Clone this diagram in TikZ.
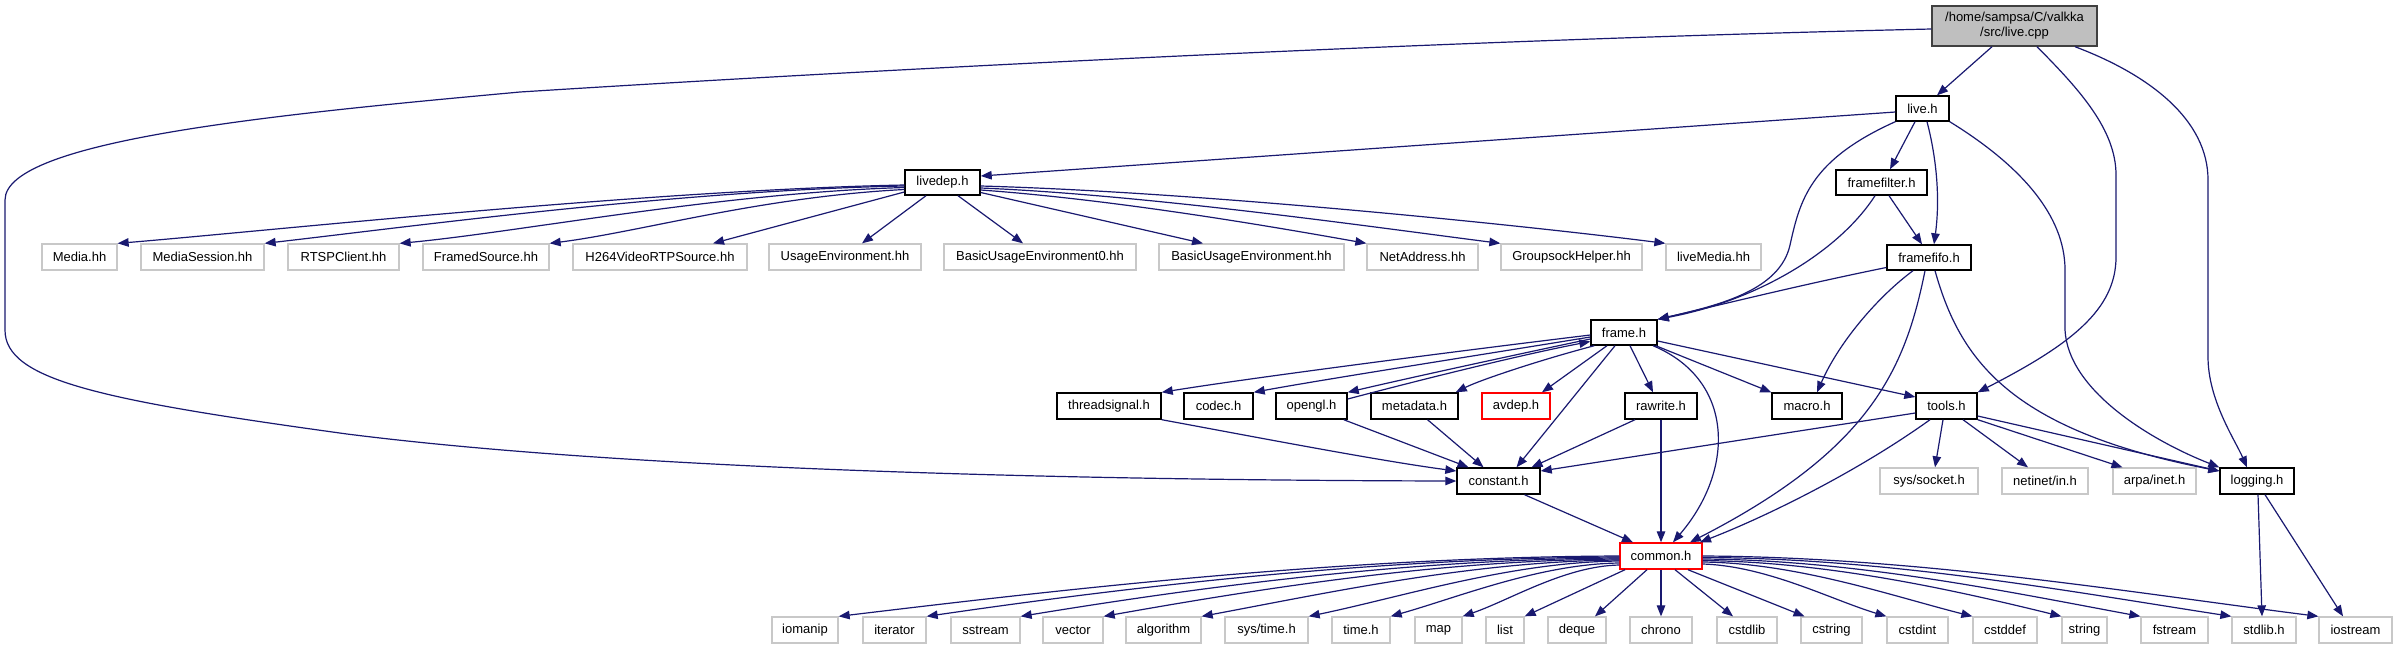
\documentclass[tikz,border=0pt]{standalone}
\usepackage{fontspec}
\setmainfont{Liberation Sans}
\usetikzlibrary{arrows.meta}
\definecolor{edgeblue}{HTML}{191970}
\definecolor{extgray}{HTML}{C8C8C8}
\definecolor{rootfill}{HTML}{BFBFBF}
\definecolor{rootline}{HTML}{404040}
\tikzset{
  base/.style={rectangle, inner sep=0pt, minimum height=26pt, fill=white, text=black, font=\fontsize{13}{15}\selectfont},
  doc/.style={base, draw=black, line width=1.4pt},
  ext/.style={base, draw=extgray, line width=1.3pt},
  trunc/.style={base, draw=red, line width=1.4pt},
  rootbox/.style={base, fill=rootfill, draw=rootline, line width=1.4pt, align=center},
  edge/.style={draw=edgeblue, line width=1.2pt, -{Triangle[length=11pt,width=8.5pt]}}
}
\begin{document}
\begin{tikzpicture}[x=1pt,y=-1pt]
\fill[white] (0,0) rectangle (2397,649);
\useasboundingbox (0,0) rectangle (2397,649);
% top
\node[rootbox, minimum width=165pt, minimum height=40pt] (livecpp) at (2014.5,26) {/home/sampsa/C/valkka\\/src/live.cpp};
\node[doc, minimum width=53pt, minimum height=25pt] (liveh) at (1922.5,108.5) {live.h};
\node[doc, minimum width=75pt, minimum height=25pt] (livedep) at (942.5,182.5) {livedep.h};
\node[doc, minimum width=91pt, minimum height=25pt] (framefilter) at (1881.5,182.5) {framefilter.h};
\node[doc, minimum width=84pt, minimum height=25pt] (framefifo) at (1929,257.5) {framefifo.h};
% live555 row
\node[ext, minimum width=75pt] (media) at (79.5,257) {Media.hh};
\node[ext, minimum width=123pt] (mediasession) at (202.5,257) {MediaSession.hh};
\node[ext, minimum width=111pt] (rtsp) at (343.5,257) {RTSPClient.hh};
\node[ext, minimum width=126pt] (framed) at (486,257) {FramedSource.hh};
\node[ext, minimum width=174pt] (h264) at (660,257) {H264VideoRTPSource.hh};
\node[ext, minimum width=152pt] (usage) at (845,257) {UsageEnvironment.hh};
\node[ext, minimum width=192pt] (basic0) at (1040,257) {BasicUsageEnvironment0.hh};
\node[ext, minimum width=185pt] (basic) at (1251.5,257) {BasicUsageEnvironment.hh};
\node[ext, minimum width=111pt] (netaddr) at (1422.5,257) {NetAddress.hh};
\node[ext, minimum width=141pt] (groupsock) at (1571.5,257) {GroupsockHelper.hh};
\node[ext, minimum width=95pt] (livemedia) at (1713.5,257) {liveMedia.hh};
% frame
\node[doc, minimum width=66pt, minimum height=25pt] (frame) at (1624,332.5) {frame.h};
\node[doc, minimum width=104pt] (threadsignal) at (1109,406) {threadsignal.h};
\node[doc, minimum width=69pt] (codec) at (1218.5,406) {codec.h};
\node[doc, minimum width=71pt] (opengl) at (1311.5,406) {opengl.h};
\node[doc, minimum width=87pt] (metadata) at (1414.5,406) {metadata.h};
\node[trunc, minimum width=68pt] (avdep) at (1516,406) {avdep.h};
\node[doc, minimum width=72pt] (rawrite) at (1661,406) {rawrite.h};
\node[doc, minimum width=70pt] (macro) at (1807,406) {macro.h};
\node[doc, minimum width=61pt] (tools) at (1946.5,406) {tools.h};
% constant row
\node[doc, minimum width=83pt] (constant) at (1498.5,481) {constant.h};
\node[ext, minimum width=98pt] (socket) at (1929,481) {sys/socket.h};
\node[ext, minimum width=86pt] (netinet) at (2045,481) {netinet/in.h};
\node[ext, minimum width=83pt] (arpa) at (2154.5,481) {arpa/inet.h};
\node[doc, minimum width=74pt] (logging) at (2257,481) {logging.h};
\node[trunc, minimum width=82pt] (common) at (1661,556) {common.h};
% bottom row
\node[ext, minimum width=66pt] (iomanip) at (805,630) {iomanip};
\node[ext, minimum width=63pt] (iterator) at (894.5,630) {iterator};
\node[ext, minimum width=69pt] (sstream) at (985.5,630) {sstream};
\node[ext, minimum width=60pt] (vector) at (1073,630) {vector};
\node[ext, minimum width=75pt] (algorithm) at (1163.5,630) {algorithm};
\node[ext, minimum width=83pt] (systime) at (1266.5,630) {sys/time.h};
\node[ext, minimum width=58pt] (timeh) at (1361,630) {time.h};
\node[ext, minimum width=47pt] (map) at (1438.5,630) {map};
\node[ext, minimum width=38pt] (list) at (1505,630) {list};
\node[ext, minimum width=58pt] (deque) at (1577,630) {deque};
\node[ext, minimum width=62pt] (chrono) at (1661,630) {chrono};
\node[ext, minimum width=60pt] (cstdlib) at (1747,630) {cstdlib};
\node[ext, minimum width=61pt] (cstring) at (1831.5,630) {cstring};
\node[ext, minimum width=61pt] (cstdint) at (1917.5,630) {cstdint};
\node[ext, minimum width=64pt] (cstddef) at (2005,630) {cstddef};
\node[ext, minimum width=45pt] (string) at (2084.5,630) {string};
\node[ext, minimum width=67pt] (fstream) at (2174.5,630) {fstream};
\node[ext, minimum width=64pt] (stdlibh) at (2264,630) {stdlib.h};
\node[ext, minimum width=73pt] (iostream) at (2355.5,630) {iostream};
% live.cpp edges
\draw[edge] ([xshift=-22.5pt]livecpp.south) -- ([xshift=14.5pt]liveh.north);
\draw[edge] ([yshift=-3pt]livecpp.west) .. controls (1450,40) and (900,68) .. (520,92) .. controls (280,114) and (5,140) .. (5,200) -- (5,330) .. controls (5,380) and (100,400) .. (347,434) .. controls (600,466) and (1000,480) .. (constant.west);
\draw[edge] ([xshift=22.5pt]livecpp.south) .. controls (2080,90) and (2116,130) .. (2116,175) -- (2116,257) .. controls (2116,310) and (2070,345) .. (tools.north east);
\draw[edge] ([xshift=60.5pt]livecpp.south) .. controls (2150,75) and (2208,120) .. (2208,180) -- (2208,357) .. controls (2208,400) and (2235,440) .. ([xshift=-10pt]logging.north);
% live.h edges
\draw[edge] ([yshift=-3.5pt]liveh.west) -- ([yshift=6.5pt]livedep.east);
\draw[edge] (liveh.south west) .. controls (1810,160) and (1800,200) .. (1790,245) .. controls (1780,290) and (1720,305) .. (frame.north east);
\draw[edge] ([xshift=-7.5pt]liveh.south) -- ([xshift=8.5pt]framefilter.north);
\draw[edge] ([xshift=4.5pt]liveh.south) .. controls (1937,160) and (1940,200) .. ([xshift=5pt]framefifo.north);
\draw[edge] (liveh.south east) .. controls (2020,165) and (2065,215) .. (2065,270) -- (2065,330) .. controls (2068,390) and (2150,440) .. (logging.north west);
% livedep edges
\draw[edge] ([yshift=-2.5pt]livedep.west) .. controls (650,190) and (267,231) .. (media.north east);
\draw[edge] ([yshift=-3.5pt]livedep.west) .. controls (680,190) and (400,228) .. (mediasession.north east);
\draw[edge] ([yshift=-5pt]livedep.west) .. controls (720,193) and (520,232) .. (rtsp.north east);
\draw[edge] ([yshift=-7pt]livedep.west) .. controls (760,197) and (640,232) .. (framed.north east);
\draw[edge] ([yshift=-9.5pt]livedep.west) -- ([xshift=53pt]h264.north);
\draw[edge] ([xshift=-16.5pt]livedep.south) -- ([xshift=17pt]usage.north);
\draw[edge] ([xshift=15.5pt]livedep.south) -- ([xshift=-17pt]basic0.north);
\draw[edge] ([yshift=-10pt]livedep.east) -- ([xshift=-48.5pt]basic.north);
\draw[edge] ([yshift=-7.5pt]livedep.east) .. controls (1120,200) and (1280,228) .. (netaddr.north west);
\draw[edge] ([yshift=-5.5pt]livedep.east) .. controls (1150,195) and (1380,228) .. (groupsock.north west);
\draw[edge] ([yshift=-3.5pt]livedep.east) .. controls (1200,192) and (1520,225) .. (livemedia.north west);
% framefilter / framefifo edges
\draw[edge] ([xshift=-6.5pt]framefilter.south) .. controls (1840,250) and (1760,300) .. (frame.north east);
\draw[edge] ([xshift=7.5pt]framefilter.south) -- ([xshift=-7pt]framefifo.north);
\draw[edge] ([yshift=-10pt]framefifo.west) .. controls (1800,285) and (1720,305) .. (frame.north east);
\draw[edge] ([xshift=-16pt]framefifo.south) .. controls (1880,295) and (1840,340) .. ([xshift=10pt]macro.north);
\draw[edge] ([xshift=-4pt]framefifo.south) .. controls (1905,370) and (1870,450) .. ([xshift=29pt]common.north);
\draw[edge] ([xshift=6pt]framefifo.south) .. controls (1960,360) and (2010,430) .. ([yshift=10pt]logging.west);
% frame edges
\draw[edge] ([yshift=-2.5pt]frame.west) .. controls (1450,352) and (1250,378) .. (threadsignal.north east);
\draw[edge] ([yshift=-4.5pt]frame.west) .. controls (1480,355) and (1320,380) .. (codec.north east);
\draw[edge] ([yshift=-6.5pt]frame.west) .. controls (1500,358) and (1400,380) .. (opengl.north east);
\draw[edge] ([yshift=7pt]opengl.east) .. controls (1420,380) and (1520,355) .. ([yshift=-9pt]frame.west);
\draw[edge] ([xshift=4pt]frame.south west) .. controls (1540,360) and (1480,380) .. ([xshift=-3pt]metadata.north east);
\draw[edge] ([xshift=-17pt]frame.south) -- ([xshift=26pt]avdep.north);
\draw[edge] ([xshift=6pt]frame.south) -- ([xshift=-8pt]rawrite.north);
\draw[edge] ([xshift=-2pt]frame.south east) -- (macro.north west);
\draw[edge] ([yshift=-8.5pt]frame.east) -- ([yshift=9pt]tools.west);
\draw[edge] ([xshift=-9pt]frame.south) -- ([xshift=18pt]constant.north);
\draw[edge] ([xshift=29pt]frame.south) .. controls (1735,380) and (1735,470) .. ([xshift=12pt]common.north);
% constant / tools / rawrite edges
\draw[edge] (threadsignal.south east) .. controls (1250,436) and (1380,461) .. ([yshift=10pt]constant.west);
\draw[edge] ([xshift=-4pt]opengl.south east) -- ([xshift=-30pt]constant.north);
\draw[edge] ([xshift=13pt]metadata.south) -- ([xshift=-15pt]constant.north);
\draw[edge] ([xshift=-26pt]rawrite.south) -- ([xshift=33pt]constant.north);
\draw[edge] ([yshift=-7pt]tools.west) -- ([yshift=10pt]constant.east);
\draw[edge] ([xshift=26pt]constant.south) -- ([xshift=-28pt]common.north);
\draw[edge] (rawrite.south) -- (common.north);
\draw[edge] ([xshift=-16.5pt]tools.south) .. controls (1860,470) and (1770,515) .. ([xshift=39pt]common.north);
\draw[edge] ([xshift=-3.5pt]tools.south) -- ([xshift=6pt]socket.north);
\draw[edge] ([xshift=16.5pt]tools.south) -- ([xshift=-17pt]netinet.north);
\draw[edge] (tools.south east) -- ([xshift=-32pt]arpa.north);
\draw[edge] ([yshift=-10pt]tools.east) -- ([yshift=10pt]logging.west);
% logging edges
\draw[edge] ([xshift=1pt]logging.south) -- ([xshift=-2pt]stdlibh.north);
\draw[edge] ([xshift=8pt]logging.south) -- ([xshift=-12.5pt]iostream.north);
% common edges
\draw[edge] (common.west) .. controls (1347,557) and (1074,588) .. (iomanip.north east);
\draw[edge] ([yshift=-1pt]common.west) .. controls (1377,558) and (1135,586) .. (iterator.north east);
\draw[edge] ([yshift=-2pt]common.west) .. controls (1410,559) and (1200,587) .. (sstream.north east);
\draw[edge] ([yshift=-3pt]common.west) .. controls (1439,560) and (1258,589) .. (vector.north east);
\draw[edge] ([yshift=-4pt]common.west) .. controls (1474,561) and (1327,593) .. (algorithm.north east);
\draw[edge] ([yshift=-5pt]common.west) .. controls (1511,562) and (1402,597) .. (systime.north east);
\draw[edge] ([yshift=-7pt]common.west) .. controls (1540,564) and (1459,597) .. (timeh.north east);
\draw[edge] ([yshift=-9pt]common.west) .. controls (1565,566) and (1510,600) .. (map.north east);
\draw[edge] ([xshift=-36pt]common.south) -- (list.north east);
\draw[edge] ([xshift=-14pt]common.south) -- ([xshift=18pt]deque.north);
\draw[edge] (common.south) -- (chrono.north);
\draw[edge] ([xshift=14pt]common.south) -- ([xshift=-14pt]cstdlib.north);
\draw[edge] ([xshift=27pt]common.south) -- ([xshift=-27pt]cstring.north);
\draw[edge] ([yshift=-8pt]common.east) .. controls (1767,566) and (1832,600) .. (cstdint.north west);
\draw[edge] ([yshift=-6pt]common.east) .. controls (1797,563) and (1892,596) .. (cstddef.north west);
\draw[edge] ([yshift=-4.5pt]common.east) .. controls (1829,562) and (1954,590) .. (string.north west);
\draw[edge] ([yshift=-3pt]common.east) .. controls (1856,560) and (2009,592) .. (fstream.north west);
\draw[edge] ([yshift=-1.5pt]common.east) .. controls (1888,558) and (2073,592) .. (stdlibh.north west);
\draw[edge] (common.east) .. controls (1918,557) and (2134,593) .. (iostream.north west);
\end{tikzpicture}
\end{document}
